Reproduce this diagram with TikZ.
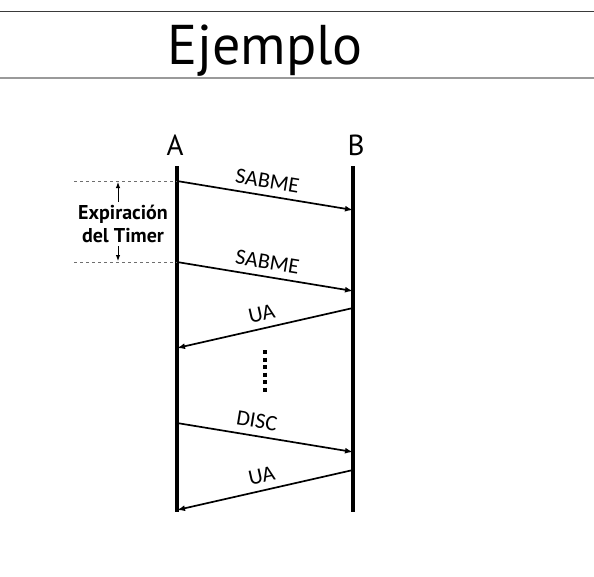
\documentclass[tikz,border=0pt]{standalone}
\usepackage{fontspec}
\setmainfont{PT Sans}
\newfontfamily\msgfont{Carlito}
\usetikzlibrary{arrows.meta,positioning,calc}
\definecolor{RuleDark}{HTML}{3A3A3A}
\definecolor{RuleGrey}{HTML}{9A9A9A}
\definecolor{GuideGrey}{HTML}{6E6E6E}

\begin{document}
\begin{tikzpicture}[x=1pt, y=-1pt,
    msg/.style={-{Latex[length=8pt,width=6pt]}, line width=1.7pt},
    msglabel/.style={sloped, above=6pt, inner sep=1pt, font=\msgfont\fontsize{22}{22}\selectfont},
    lifeline/.style={line width=3.8pt},
    guide/.style={GuideGrey, dash pattern=on 3pt off 3pt, line width=0.9pt}]
  \useasboundingbox (0,0) rectangle (594,576);
  % title bar
  \draw[RuleDark, line width=1pt] (0,11) -- (594,11);
  \draw[RuleGrey, line width=1.5pt] (0,78) -- (594,78);
  \node[anchor=base, inner sep=0pt, font=\fontsize{56}{56}\selectfont] (title) at (265,64) {Ejemplo};

  % stations
  \node[font=\fontsize{29}{29}\selectfont, inner sep=0pt] (a) at (175,145) {A};
  \node[font=\fontsize{29}{29}\selectfont, inner sep=0pt] (b) at (356,145) {B};
  \draw[lifeline] (177,166) -- (177,512);
  \draw[lifeline] (353,166) -- (353,512);

  % message end points on the lifelines
  \coordinate (a1) at (177,181);  \coordinate (b1) at (353,210);
  \coordinate (a2) at (177,262);  \coordinate (b2) at (353,291);
  \coordinate (b3) at (353,308);  \coordinate (a3) at (177,348);
  \coordinate (a5) at (177,423);  \coordinate (b5) at (353,452);
  \coordinate (b6) at (353,470);  \coordinate (a6) at (177,510);

  \draw[msg] (a1) -- node[msglabel, pos=0.5] {SABME} (b1);
  \draw[msg] (a2) -- node[msglabel, pos=0.5] {SABME} (b2);
  \draw[msg] (b3) -- node[msglabel, pos=0.5] {UA} (a3);
  \draw[msg] (a5) -- node[msglabel, pos=0.44] {DISC} (b5);
  \draw[msg] (b6) -- node[msglabel, pos=0.5] {UA} (a6);

  % dots
  \coordinate (dtop) at (265,350);
  \coordinate (dbot) at (265,393);
  \draw[line width=4pt, dash pattern=on 4pt off 3.5pt] (dtop) -- (dbot);

  % timer
  \coordinate (g1) at (74,181);
  \coordinate (g2) at (74,262);
  \draw[guide] (g1) -- (a1);
  \draw[guide] (g2) -- (a2);
  \node[align=center, inner sep=0pt, font=\bfseries\fontsize{20}{23}\selectfont] (timer) at (123,224) {Expiración\\del Timer};
  \coordinate (t1) at (118,182);
  \coordinate (t2) at (118,261);
  \draw[-{Latex[length=6pt,width=4.5pt]}, line width=1pt] (timer.north -| t1) ++(0,-3) -- (t1);
  \draw[-{Latex[length=6pt,width=4.5pt]}, line width=1pt] (timer.south -| t2) ++(0,3) -- (t2);
\end{tikzpicture}
\end{document}
